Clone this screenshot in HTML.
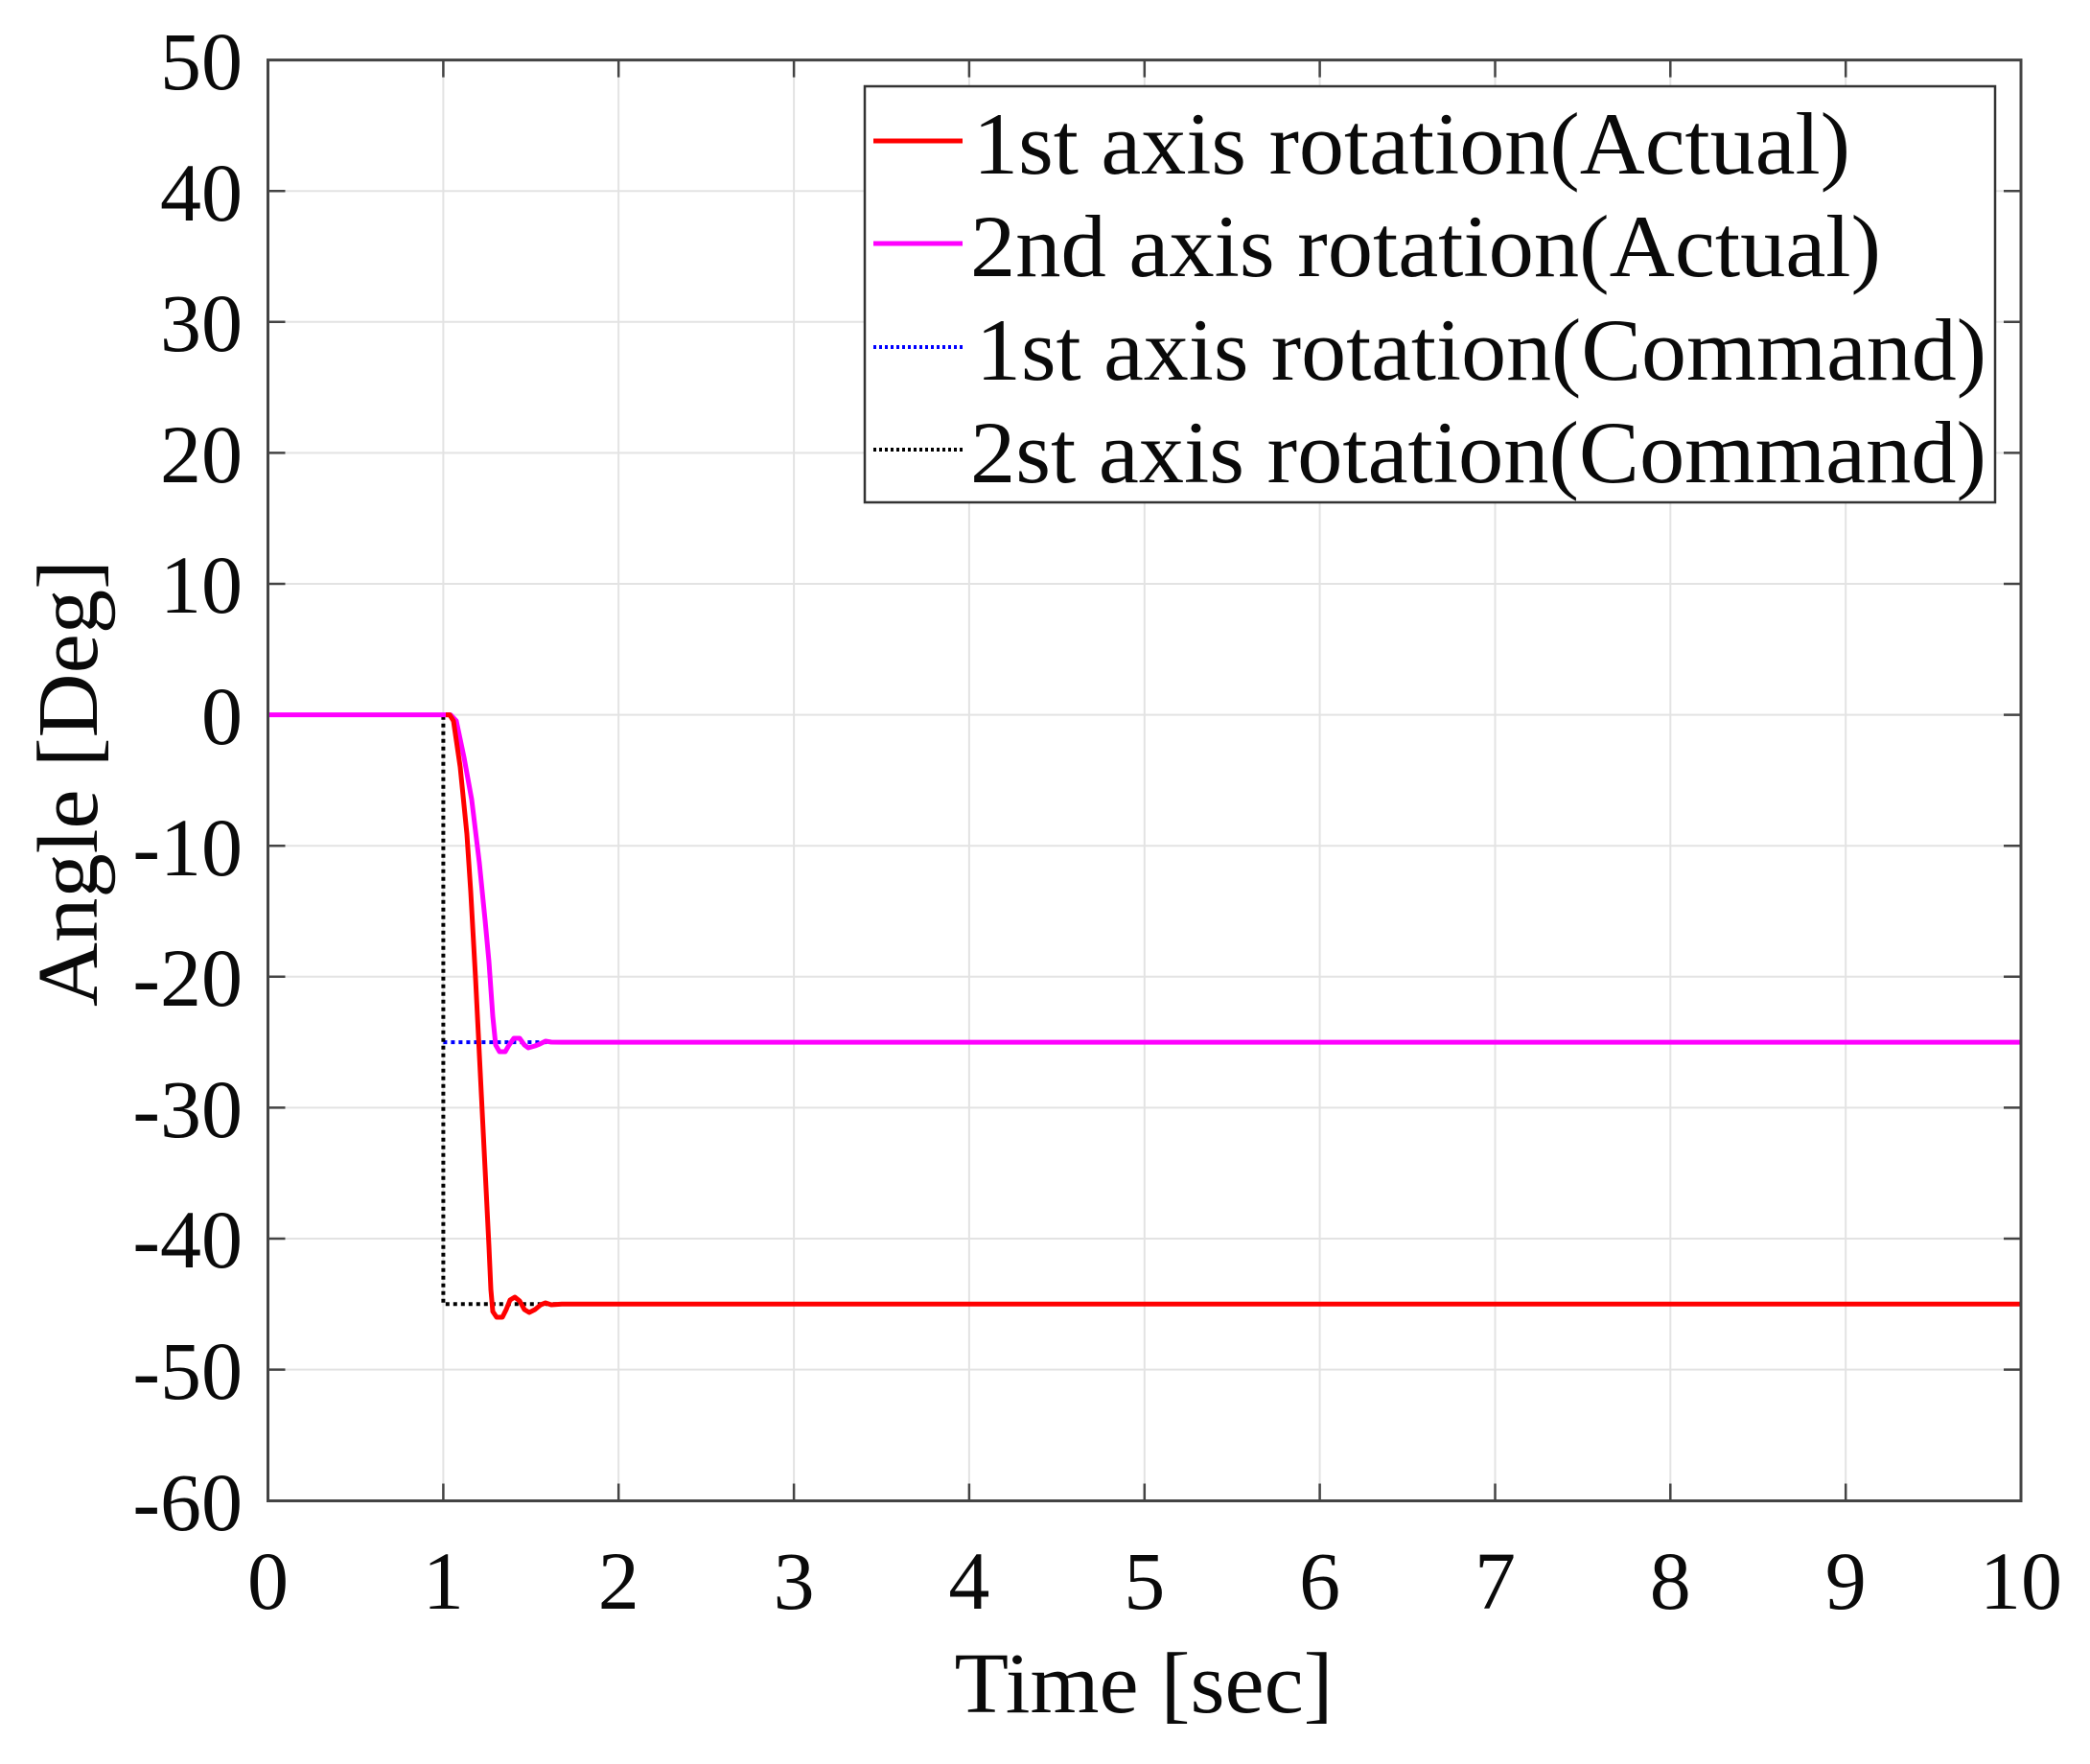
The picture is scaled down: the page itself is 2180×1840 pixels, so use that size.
<!DOCTYPE html>
<html><head><meta charset="utf-8"><style>body{margin:0;background:#fff}svg{display:block}</style></head>
<body>
<svg width="2180" height="1840" viewBox="0 0 2180 1840" xmlns="http://www.w3.org/2000/svg" font-family="Liberation Serif, serif">
<rect width="2180" height="1840" fill="#fff"/>
<g stroke="#e3e3e3" stroke-width="2">
<line x1="462.4" y1="62.6" x2="462.4" y2="1565.5"/>
<line x1="645.2" y1="62.6" x2="645.2" y2="1565.5"/>
<line x1="828.1" y1="62.6" x2="828.1" y2="1565.5"/>
<line x1="1010.9" y1="62.6" x2="1010.9" y2="1565.5"/>
<line x1="1193.8" y1="62.6" x2="1193.8" y2="1565.5"/>
<line x1="1376.6" y1="62.6" x2="1376.6" y2="1565.5"/>
<line x1="1559.5" y1="62.6" x2="1559.5" y2="1565.5"/>
<line x1="1742.3" y1="62.6" x2="1742.3" y2="1565.5"/>
<line x1="1925.2" y1="62.6" x2="1925.2" y2="1565.5"/>
<line x1="279.5" y1="199.2" x2="2108" y2="199.2"/>
<line x1="279.5" y1="335.8" x2="2108" y2="335.8"/>
<line x1="279.5" y1="472.4" x2="2108" y2="472.4"/>
<line x1="279.5" y1="609" x2="2108" y2="609"/>
<line x1="279.5" y1="745.6" x2="2108" y2="745.6"/>
<line x1="279.5" y1="882.2" x2="2108" y2="882.2"/>
<line x1="279.5" y1="1018.8" x2="2108" y2="1018.8"/>
<line x1="279.5" y1="1155.4" x2="2108" y2="1155.4"/>
<line x1="279.5" y1="1292" x2="2108" y2="1292"/>
<line x1="279.5" y1="1428.6" x2="2108" y2="1428.6"/>
</g>
<g stroke="#444" stroke-width="2.5">
<path d="M462.4 1565.5v-18M645.2 1565.5v-18M828.1 1565.5v-18M1010.9 1565.5v-18M1193.8 1565.5v-18M1376.6 1565.5v-18M1559.5 1565.5v-18M1742.3 1565.5v-18M1925.2 1565.5v-18"/>
<path d="M462.4 62.6v18M645.2 62.6v18M828.1 62.6v18M1010.9 62.6v18M1193.8 62.6v18M1376.6 62.6v18M1559.5 62.6v18M1742.3 62.6v18M1925.2 62.6v18"/>
<path d="M279.5 199.2h18M279.5 335.8h18M279.5 472.4h18M279.5 609h18M279.5 745.6h18M279.5 882.2h18M279.5 1018.8h18M279.5 1155.4h18M279.5 1292h18M279.5 1428.6h18"/>
<path d="M2108 199.2h-18M2108 335.8h-18M2108 472.4h-18M2108 609h-18M2108 745.6h-18M2108 882.2h-18M2108 1018.8h-18M2108 1155.4h-18M2108 1292h-18M2108 1428.6h-18"/>
</g>
<path d="M462.4 1087.1H2108" stroke="#0000ff" stroke-width="4" stroke-dasharray="4 4" fill="none"/>
<path d="M279.5 745.6H462.4V1360.3H2108" stroke="#000" stroke-width="4" stroke-dasharray="4 4" fill="none"/>
<path d="M279.5 745.6H470L476 752L484 790L492 834L500 900L506 960L510 1003L514 1060L517 1090L521 1097L527 1097L531 1090L536 1083L542 1083L547 1090L551 1093L558 1091L563 1089L569 1086L575 1087L586 1087.1H2108" stroke="#ff00ff" stroke-width="5" fill="none" stroke-linejoin="round"/>
<path d="M465 745.6H469L473 752L480 800L487 870L491 930L496 1020L500 1100L504 1180L507 1240L510 1300L512 1345L514 1368L518 1374L524 1374L528 1366L532 1356L537 1353L542 1357L547 1366L552 1369L558 1366L564 1361L569 1359L575 1361L586 1360.3H2108" stroke="#ff0000" stroke-width="5" fill="none" stroke-linejoin="round"/>
<rect x="279.5" y="62.6" width="1828.5" height="1502.9" fill="none" stroke="#444" stroke-width="3"/>
<rect x="902" y="90" width="1179" height="434" fill="#fff" stroke="#333" stroke-width="2.5"/>
<line x1="911" y1="147" x2="1004" y2="147" stroke="#ff0000" stroke-width="5"/>
<line x1="911" y1="254" x2="1004" y2="254" stroke="#ff00ff" stroke-width="5"/>
<line x1="911" y1="362" x2="1004" y2="362" stroke="#0000ff" stroke-width="4" stroke-dasharray="3 3"/>
<line x1="911" y1="469" x2="1004" y2="469" stroke="#000" stroke-width="4" stroke-dasharray="3 3"/>
<g font-size="92" fill="#0a0a0a">
<text x="1015" y="181" textLength="915" lengthAdjust="spacingAndGlyphs">1st axis rotation(Actual)</text>
<text x="1012" y="288" textLength="950" lengthAdjust="spacingAndGlyphs">2nd axis rotation(Actual)</text>
<text x="1018" y="396" textLength="1054" lengthAdjust="spacingAndGlyphs">1st axis rotation(Command)</text>
<text x="1012" y="503" textLength="1060" lengthAdjust="spacingAndGlyphs">2st axis rotation(Command)</text>
</g>
<g font-size="86" fill="#0a0a0a" text-anchor="end">
<text x="253" y="93">50</text>
<text x="253" y="230">40</text>
<text x="253" y="366">30</text>
<text x="253" y="503">20</text>
<text x="253" y="639">10</text>
<text x="253" y="776">0</text>
<text x="253" y="913">-10</text>
<text x="253" y="1049">-20</text>
<text x="253" y="1186">-30</text>
<text x="253" y="1322">-40</text>
<text x="253" y="1459">-50</text>
<text x="253" y="1596">-60</text>
</g>
<g font-size="86" fill="#0a0a0a" text-anchor="middle">
<text x="279.5" y="1678">0</text>
<text x="462.4" y="1678">1</text>
<text x="645.2" y="1678">2</text>
<text x="828.1" y="1678">3</text>
<text x="1010.9" y="1678">4</text>
<text x="1193.8" y="1678">5</text>
<text x="1376.6" y="1678">6</text>
<text x="1559.5" y="1678">7</text>
<text x="1742.3" y="1678">8</text>
<text x="1925.2" y="1678">9</text>
<text x="2108" y="1678">10</text>
</g>
<text x="1193" y="1786" font-size="90" fill="#0a0a0a" text-anchor="middle" textLength="395" lengthAdjust="spacingAndGlyphs">Time [sec]</text>
<text transform="translate(101,817) rotate(-90)" font-size="90" fill="#0a0a0a" text-anchor="middle" textLength="466" lengthAdjust="spacingAndGlyphs">Angle [Deg]</text>
</svg>
</body></html>
